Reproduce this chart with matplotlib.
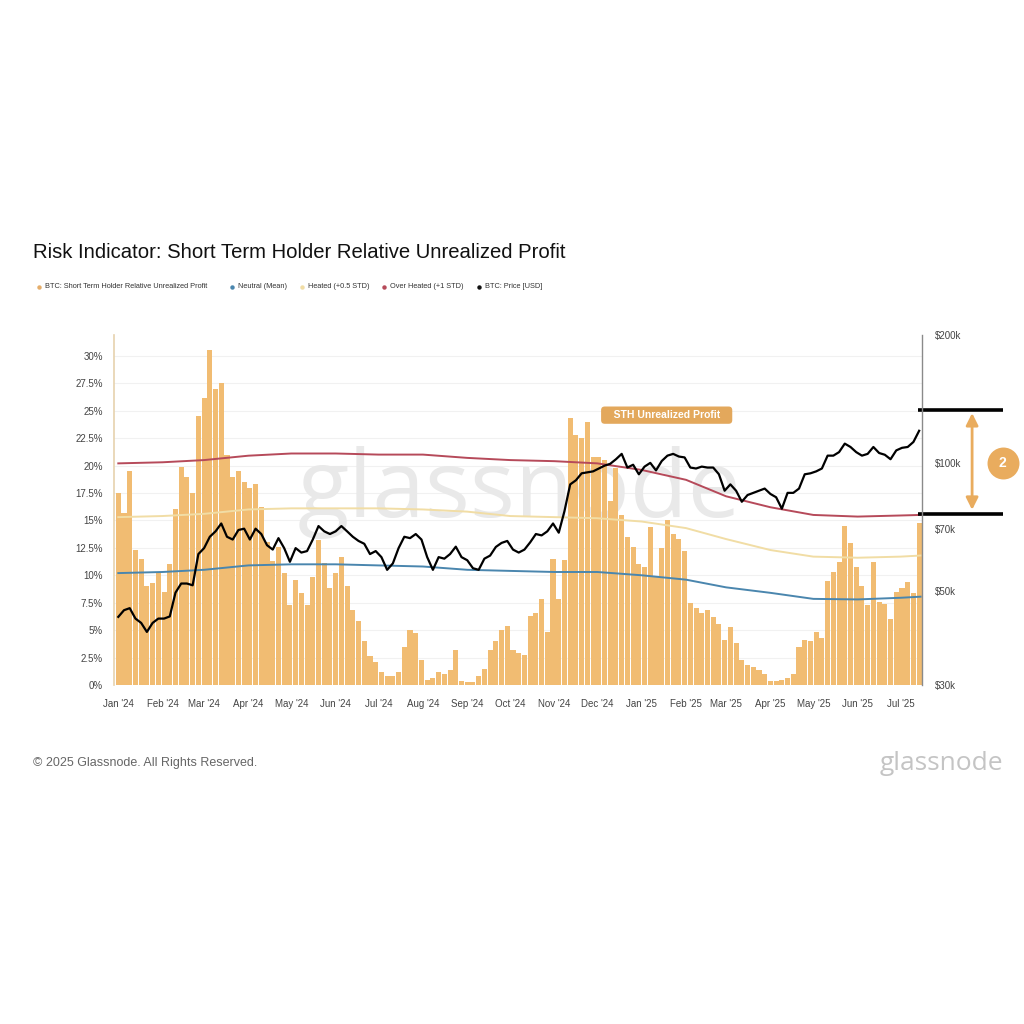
import numpy as np
import pandas as pd
import matplotlib
matplotlib.use("Agg")
import matplotlib.pyplot as plt
import matplotlib.dates as mdates
import matplotlib.ticker as mticker
import matplotlib.transforms as mtransforms
from matplotlib.lines import Line2D

plt.rcParams['font.family'] = ['Liberation Sans', 'DejaVu Sans']

# STH relative unrealized profit (%), one value every 4 days from 2024-01-01
sth_profit = [
    17.5, 15.7, 19.5, 12.3, 11.5, 9.0, 9.3, 10.2, 8.5, 11.0,
    16.0, 19.9, 19.0, 17.5, 24.5, 26.2, 30.5, 27.0, 27.5, 21.0,
    19.0, 19.5, 18.5, 18.0, 18.3, 16.2, 13.0, 11.3, 12.6, 10.2,
    7.3, 9.6, 8.4, 7.3, 9.8, 13.2, 11.1, 8.8, 10.2, 11.7,
    9.0, 6.8, 5.8, 4.0, 2.6, 2.1, 1.2, 0.8, 0.8, 1.2,
    3.5, 5.0, 4.7, 2.3, 0.5, 0.6, 1.2, 1.0, 1.4, 3.2,
    0.4, 0.3, 0.3, 0.8, 1.5, 3.2, 4.0, 5.0, 5.4, 3.2,
    2.9, 2.7, 6.3, 6.6, 7.8, 4.8, 11.5, 7.8, 11.4, 24.3,
    22.8, 22.5, 24.0, 20.8, 20.8, 20.5, 16.8, 19.8, 15.5, 13.5,
    12.6, 11.0, 10.8, 14.4, 9.8, 12.5, 15.0, 13.8, 13.3, 12.2,
    7.5, 7.0, 6.6, 6.8, 6.2, 5.6, 4.1, 5.3, 3.8, 2.3,
    1.8, 1.6, 1.4, 1.0, 0.4, 0.4, 0.5, 0.6, 1.0, 3.5,
    4.1, 4.0, 4.8, 4.3, 9.5, 10.3, 11.2, 14.5, 12.9, 10.8,
    9.0, 7.3, 11.2, 7.6, 7.4, 6.0, 8.5, 8.8, 9.4, 8.4,
    14.8,
]

# BTC price (thousand USD), same dates
btc_price_k = [
    43.4, 45.0, 45.5, 43.0, 42.0, 40.0, 42.0, 43.0, 43.0, 43.5,
    49.5, 52.0, 52.0, 51.5, 61.0, 63.0, 67.0, 69.0, 72.0, 67.0,
    66.0, 69.5, 70.0, 66.0, 70.0, 68.0, 64.0, 62.5, 66.5, 63.0,
    58.5, 63.0, 61.5, 62.0, 66.0, 71.0, 69.0, 68.0, 69.0, 71.0,
    69.0, 67.0, 65.5, 64.5, 61.0, 62.0, 60.0, 56.0, 58.0, 63.0,
    67.0, 66.5, 68.0, 66.0, 60.0, 56.0, 60.0, 59.5, 61.0, 63.5,
    60.0, 59.0, 56.5, 56.0, 59.5, 60.5, 63.4, 64.8, 65.5, 62.5,
    61.5, 62.5, 65.0, 68.0, 67.5, 69.0, 72.0, 68.5, 77.0, 89.0,
    91.0, 94.5, 95.0, 95.5, 97.0, 98.5, 99.5, 102.0, 105.0, 97.5,
    99.0, 94.0, 98.0, 100.0, 96.0, 101.0, 104.0, 105.0, 103.5, 103.0,
    97.5, 97.0, 98.0, 97.5, 97.5, 94.0, 86.0, 89.0, 86.0, 81.0,
    84.0, 85.0, 86.0, 87.0, 84.5, 83.0, 78.0, 85.0, 85.0, 87.0,
    94.0, 94.5, 95.5, 97.0, 104.0, 104.0, 106.0, 111.0, 109.0, 106.0,
    104.0, 105.0, 109.0, 105.5, 104.5, 102.0, 107.0, 108.5, 109.0, 112.0,
    119.0,
]

# band lines (%), read at month starts
band_dates = ['2024-01-01', '2024-02-01', '2024-03-01', '2024-04-01', '2024-05-01',
              '2024-06-01', '2024-07-01', '2024-08-01', '2024-09-01', '2024-10-01',
              '2024-11-01', '2024-12-01', '2025-01-01', '2025-02-01', '2025-03-01',
              '2025-04-01', '2025-05-01', '2025-06-01', '2025-07-01', '2025-07-15']
neutral = [10.2, 10.3, 10.5, 10.9, 11.0, 11.0, 10.9, 10.8, 10.5, 10.4,
           10.3, 10.3, 10.0, 9.6, 8.9, 8.4, 7.85, 7.8, 7.95, 8.05]
heated = [15.3, 15.4, 15.6, 16.0, 16.1, 16.1, 16.1, 16.0, 15.8, 15.4,
          15.3, 15.2, 14.9, 14.3, 13.3, 12.3, 11.7, 11.6, 11.7, 11.8]
over_heated = [20.2, 20.3, 20.5, 20.9, 21.1, 21.1, 21.0, 21.0, 20.7, 20.5,
               20.4, 20.2, 19.6, 18.7, 17.2, 16.2, 15.5, 15.35, 15.45, 15.5]

legend_labels = ['BTC: Short Term Holder Relative Unrealized Profit', 'Neutral (Mean)',
                 'Heated (+0.5 STD)', 'Over Heated (+1 STD)', 'BTC: Price [USD]']
legend_colors = ['#E5AD6A', '#4A86AE', '#F1DDA5', '#B64A5A', '#111111']

price_ticks = [30000, 50000, 70000, 100000, 200000]
price_labels = ['$30k', '$50k', '$70k', '$100k', '$200k']

# price levels marked on the right
level_high = 133000
level_low = 76000

C_BAR = '#F1BC72'
C_ORANGE = '#E9AC5E'

dates = pd.date_range('2024-01-01', periods=len(sth_profit), freq='4D')
bdates = pd.to_datetime(band_dates)
price = np.array(btc_price_k) * 1000

fig = plt.figure(figsize=(10.24, 10.24), dpi=100)
fig.patch.set_facecolor('white')

ax = fig.add_axes([114 / 1024, 1 - 685 / 1024, 808 / 1024, 350 / 1024])
ax.bar(dates, sth_profit, width=3.55, color=C_BAR, linewidth=0, zorder=2)
ax.plot(bdates, neutral, color=legend_colors[1], lw=1.4, zorder=3)
ax.plot(bdates, heated, color=legend_colors[2], lw=1.4, zorder=3)
ax.plot(bdates, over_heated, color=legend_colors[3], lw=1.4, zorder=3)

ax.set_ylim(0, 31.9)
ax.set_xlim(pd.Timestamp('2023-12-29'), pd.Timestamp('2025-07-16'))
ax.set_yticks(np.arange(0, 31, 2.5))
ax.yaxis.set_major_formatter(mticker.FuncFormatter(lambda v, p: f"{v:g}%"))
ax.xaxis.set_major_locator(mdates.MonthLocator())
ax.xaxis.set_major_formatter(mdates.DateFormatter("%b '%y"))
ax.tick_params(axis='both', length=0, labelsize=7, colors='#444444')
ax.tick_params(axis='y', pad=8)
ax.tick_params(axis='x', pad=10)
ax.grid(axis='y', color='#f1f1f1', lw=0.8, zorder=0)
ax.set_axisbelow(True)
for s in ['top', 'right', 'bottom']:
    ax.spines[s].set_visible(False)
ax.spines['left'].set_color('#E6D2AE')
ax.spines['left'].set_linewidth(1.2)

ax.text(0.502, 0.55, 'glassnode', transform=ax.transAxes, fontsize=68,
        color='#e9e9e9', ha='center', va='center', zorder=1,
        family=['Open Sans', 'DejaVu Sans'])

ax.text(0.684, 0.771, '   STH Unrealized Profit   ', transform=ax.transAxes,
        fontsize=7.5, color='white', ha='center', va='center', zorder=6,
        fontweight='bold',
        bbox=dict(boxstyle='round,pad=0.35', fc='#E3A85C', ec='none'))

ax2 = ax.twinx()
ax2.set_yscale('log')
ax2.plot(dates, price, color='black', lw=1.6, zorder=4)
ax2.set_ylim(30000, 200000)
ax2.yaxis.set_minor_locator(mticker.NullLocator())
ax2.set_yticks(price_ticks)
ax2.set_yticklabels(price_labels)
ax2.tick_params(axis='y', length=0, labelsize=7, colors='#444444', pad=9)
for s in ['top', 'left', 'bottom']:
    ax2.spines[s].set_visible(False)
ax2.spines['right'].set_color('#8a8a8a')
ax2.spines['right'].set_linewidth(1.0)

# right-side bracket annotation
trans = mtransforms.blended_transform_factory(ax2.transAxes, ax2.transData)
for lvl in [level_high, level_low]:
    ax2.plot([0.995, 1.10], [lvl, lvl], color='black', lw=2.6,
             transform=trans, clip_on=False, solid_capstyle='butt')
ax2.annotate('', xy=(1.062, level_low * 1.02), xytext=(1.062, level_high * 0.985),
             xycoords=trans, textcoords=trans, annotation_clip=False,
             arrowprops=dict(arrowstyle='<|-|>', color=C_ORANGE, lw=2,
                             mutation_scale=18, shrinkA=0, shrinkB=0))
ax2.plot([1.10], [100000], 'o', ms=23, color=C_ORANGE, mec='none',
         transform=trans, clip_on=False)
ax2.text(1.10, 100000, '2', transform=trans, color='white', fontsize=10,
         fontweight='bold', ha='center', va='center')

# title and legend
fig.text(33 / 1024, 1 - 253 / 1024, 'Risk Indicator: Short Term Holder Relative Unrealized Profit',
         fontsize=14.6, color='#111111', va='center', ha='left')
legend_x = [39, 232, 302, 384, 479]
ly = 1 - 287 / 1024
for lx, lab, col in zip(legend_x, legend_labels, legend_colors):
    fig.add_artist(Line2D([lx / 1024], [ly], marker='o', ms=3.2, color=col,
                          mec='none', transform=fig.transFigure))
    fig.text((lx + 6) / 1024, ly, lab, fontsize=5.3, color='#333333',
             va='center', ha='left')

# footer
fig.text(33 / 1024, 1 - 763 / 1024, '\u00a9 2025 Glassnode. All Rights Reserved.',
         fontsize=9, color='#666666', va='center', ha='left')
fig.text(1003 / 1024, 1 - 763 / 1024, 'glassnode', fontsize=19, color='#c4c4c4',
         va='center', ha='right', family=['Open Sans', 'DejaVu Sans'])

fig.savefig('out.png', dpi=100, facecolor='white')
